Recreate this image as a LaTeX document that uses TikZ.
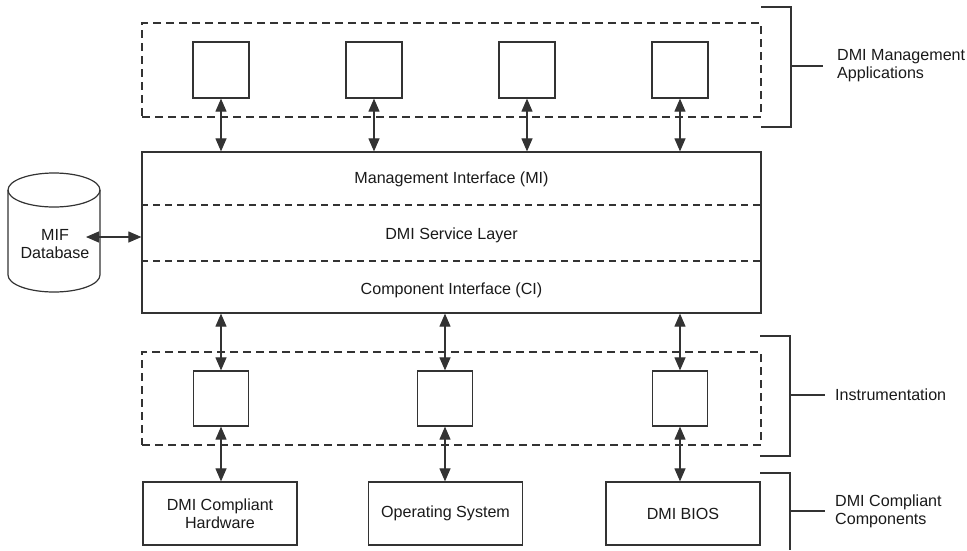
\documentclass[tikz,border=0pt]{standalone}
\usepackage{fontspec}
\setmainfont{Liberation Sans}
\usetikzlibrary{arrows.meta}
\definecolor{ln}{HTML}{333333}
\definecolor{tx}{HTML}{1A1A1A}
\begin{document}
\begin{tikzpicture}[x=1pt,y=-1pt,
  every node/.style={font=\fontsize{16.1}{18}\selectfont, text=tx, inner sep=0pt},
  box/.style={draw=ln, line width=1.2pt, fill=white},
  sq/.style={box, minimum width=56pt, minimum height=56pt},
  comp/.style={box, minimum width=154pt, minimum height=63pt, align=center},
  grp/.style={draw=ln, line width=1.3pt, dash pattern=on 8pt off 5pt, minimum width=619pt, minimum height=94pt},
  sep/.style={draw=ln, line width=1.2pt, dash pattern=on 7pt off 5pt},
  link/.style={draw=ln, line width=1.1pt, {Triangle[length=13pt,width=11pt]}-{Triangle[length=13pt,width=11pt]}},
  brk/.style={draw=ln, line width=1.2pt},
  lbl/.style={anchor=west, align=left}]
\useasboundingbox (0,0) rectangle (967,550);
% groups
\node[grp] (topgrp) at (451.5,70) {};
\node[grp, minimum height=93pt] (botgrp) at (451.5,398.5) {};
% top application boxes
\node[sq] (t1) at (221,70) {};
\node[sq] (t2) at (374,70) {};
\node[sq] (t3) at (527,70) {};
\node[sq] (t4) at (680,70) {};
% main service layer
\node[box, minimum width=619pt, minimum height=161pt] (main) at (451.5,232.5) {};
\draw[sep] (main.west |- 0,205) -- (main.east |- 0,205);
\draw[sep] (main.west |- 0,261) -- (main.east |- 0,261);
\node (mi) at (451.5,179) {Management Interface (MI)};
\node (sl) at (451.5,235) {DMI Service Layer};
\node (ci) at (451.5,290) {Component Interface (CI)};
% instrumentation boxes
\node[sq, minimum width=55pt, minimum height=55pt] (i1) at (221,398.5) {};
\node[sq, minimum width=55pt, minimum height=55pt] (i2) at (445,398.5) {};
\node[sq, minimum width=55pt, minimum height=55pt] (i3) at (680,398.5) {};
% components
\node[comp] (b1) at (220,513.5) {DMI Compliant\\Hardware};
\node[comp] (b2) at (445.5,513.5) {Operating System};
\node[comp] (b3) at (683,513.5) {DMI BIOS};
% arrows
\foreach \t in {t1,t2,t3,t4}{\draw[link] (\t.south) -- (\t.south |- main.north);}
\foreach \i in {i1,i2,i3}{\draw[link] (main.south -| \i) -- (\i.north);}
\draw[link] (i1.south) -- (i1.south |- b1.north);
\draw[link] (i2.south) -- (i2.south |- b2.north);
\draw[link] (i3.south) -- (i3.south |- b3.north);
% database cylinder
\draw[brk, fill=white] (8,190) -- (8,275) arc[start angle=180, end angle=360, x radius=46pt, y radius=17pt] -- (100,190);
\draw[brk] (54,190) ellipse [x radius=46pt, y radius=17pt];
\node[align=center] (db) at (55,244) {MIF\\Database};
\coordinate (dbend) at (86,237);
\draw[link] (dbend) -- (main.west |- dbend);
% brackets
\node[lbl] (l1) at (837,66) {DMI Management\\Applications};
\draw[brk] (761,7) -- (791,7) -- (791,127) -- (761,127);
\draw[brk] (791,66) -- (823,66);
\node[lbl] (l2) at (835,395) {Instrumentation};
\draw[brk] (760,336) -- (790,336) -- (790,456) -- (760,456);
\draw[brk] (790,395) -- (825,395);
\node[lbl] (l3) at (835,511) {DMI Compliant\\Components};
\draw[brk] (760,473) -- (790,473) -- (790,550);
\draw[brk] (790,511) -- (825,511);
\end{tikzpicture}
\end{document}
